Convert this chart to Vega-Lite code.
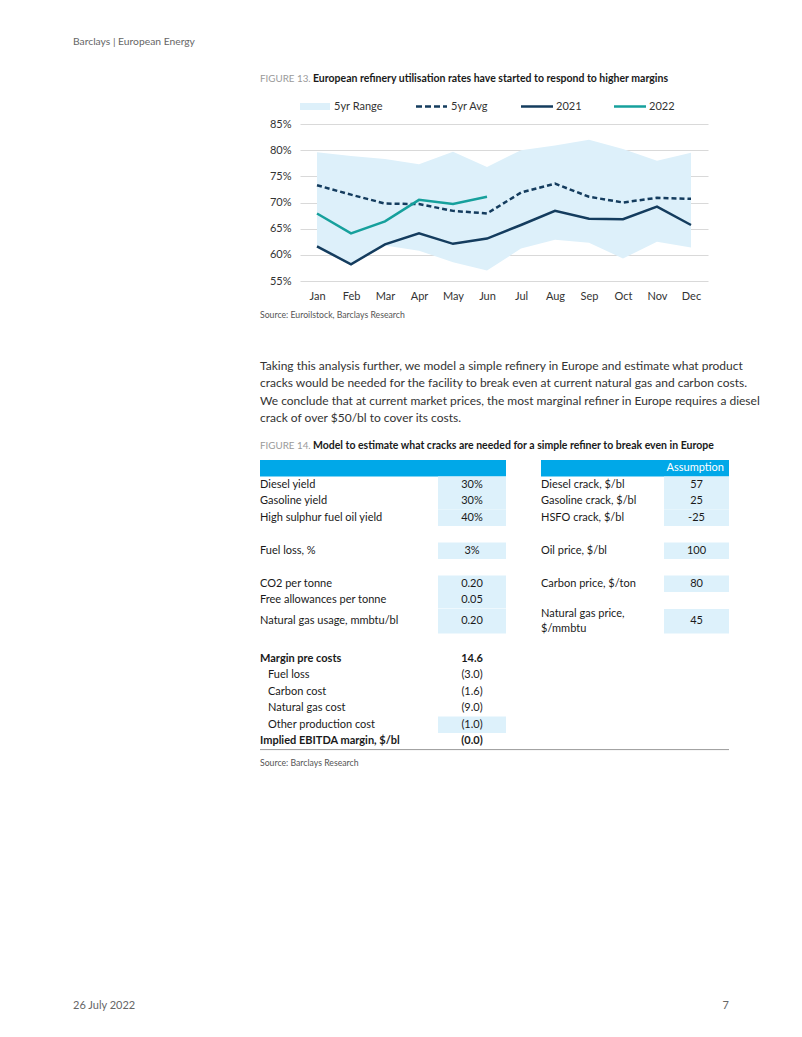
{
  "$schema": "https://vega.github.io/schema/vega-lite/v6.json",
  "background": "white",
  "padding": {"left": 73, "top": 30, "right": 5, "bottom": 5},
  "spacing": 0,
  "bounds": "flush",
  "center": true,
  "datasets": {
    "chart": [
      {"month": "Jan", "series": "5yr Range", "low": 61.3, "high": 79.6},
      {"month": "Feb", "series": "5yr Range", "low": 58.0, "high": 78.9},
      {"month": "Mar", "series": "5yr Range", "low": 61.8, "high": 78.3},
      {"month": "Apr", "series": "5yr Range", "low": 60.8, "high": 77.3},
      {"month": "May", "series": "5yr Range", "low": 58.6, "high": 79.7},
      {"month": "Jun", "series": "5yr Range", "low": 57.0, "high": 76.8},
      {"month": "Jul", "series": "5yr Range", "low": 61.2, "high": 80.0},
      {"month": "Aug", "series": "5yr Range", "low": 62.9, "high": 80.9},
      {"month": "Sep", "series": "5yr Range", "low": 62.3, "high": 82.0},
      {"month": "Oct", "series": "5yr Range", "low": 59.3, "high": 80.2},
      {"month": "Nov", "series": "5yr Range", "low": 62.5, "high": 78.0},
      {"month": "Dec", "series": "5yr Range", "low": 61.4, "high": 79.5},
      {"month": "Jan", "series": "5yr Avg", "value": 73.3},
      {"month": "Feb", "series": "5yr Avg", "value": 71.5},
      {"month": "Mar", "series": "5yr Avg", "value": 69.8},
      {"month": "Apr", "series": "5yr Avg", "value": 69.7},
      {"month": "May", "series": "5yr Avg", "value": 68.4},
      {"month": "Jun", "series": "5yr Avg", "value": 67.9},
      {"month": "Jul", "series": "5yr Avg", "value": 71.9},
      {"month": "Aug", "series": "5yr Avg", "value": 73.6},
      {"month": "Sep", "series": "5yr Avg", "value": 71.1},
      {"month": "Oct", "series": "5yr Avg", "value": 70.0},
      {"month": "Nov", "series": "5yr Avg", "value": 70.9},
      {"month": "Dec", "series": "5yr Avg", "value": 70.7},
      {"month": "Jan", "series": "2021", "value": 61.6},
      {"month": "Feb", "series": "2021", "value": 58.2},
      {"month": "Mar", "series": "2021", "value": 62.0},
      {"month": "Apr", "series": "2021", "value": 64.1},
      {"month": "May", "series": "2021", "value": 62.1},
      {"month": "Jun", "series": "2021", "value": 63.1},
      {"month": "Jul", "series": "2021", "value": 65.7},
      {"month": "Aug", "series": "2021", "value": 68.4},
      {"month": "Sep", "series": "2021", "value": 66.9},
      {"month": "Oct", "series": "2021", "value": 66.8},
      {"month": "Nov", "series": "2021", "value": 69.2},
      {"month": "Dec", "series": "2021", "value": 65.7},
      {"month": "Jan", "series": "2022", "value": 67.9},
      {"month": "Feb", "series": "2022", "value": 64.1},
      {"month": "Mar", "series": "2022", "value": 66.4},
      {"month": "Apr", "series": "2022", "value": 70.5},
      {"month": "May", "series": "2022", "value": 69.7},
      {"month": "Jun", "series": "2022", "value": 71.1}
    ],
    "table": [
      {"block": "A", "row": "H", "side": "L", "label": "", "value": "", "kind": "head", "input": false},
      {"block": "A", "row": "H", "side": "R", "label": "Assumption", "value": "", "kind": "head", "input": false},
      {"block": "A", "row": "r1", "side": "L", "label": "Diesel yield", "value": "30%", "kind": "item", "input": true},
      {"block": "A", "row": "r2", "side": "L", "label": "Gasoline yield", "value": "30%", "kind": "item", "input": true},
      {"block": "A", "row": "r3", "side": "L", "label": "High sulphur fuel oil yield", "value": "40%", "kind": "item", "input": true},
      {"block": "A", "row": "r4", "side": "L", "label": "Fuel loss, %", "value": "3%", "kind": "item", "input": true},
      {"block": "A", "row": "r5", "side": "L", "label": "CO2 per tonne", "value": "0.20", "kind": "item", "input": true},
      {"block": "A", "row": "r6", "side": "L", "label": "Free allowances per tonne", "value": "0.05", "kind": "item", "input": true},
      {"block": "A", "row": "r1", "side": "R", "label": "Diesel crack, $/bl", "value": "57", "kind": "item", "input": true},
      {"block": "A", "row": "r2", "side": "R", "label": "Gasoline crack, $/bl", "value": "25", "kind": "item", "input": true},
      {"block": "A", "row": "r3", "side": "R", "label": "HSFO crack, $/bl", "value": "-25", "kind": "item", "input": true},
      {"block": "A", "row": "r4", "side": "R", "label": "Oil price, $/bl", "value": "100", "kind": "item", "input": true},
      {"block": "A", "row": "r5", "side": "R", "label": "Carbon price, $/ton", "value": "80", "kind": "item", "input": true},
      {"block": "B", "row": "r7", "side": "L", "label": "Natural gas usage, mmbtu/bl", "value": "0.20", "kind": "item", "input": true},
      {"block": "B", "row": "r7", "side": "R", "label": "Natural gas price,\n$/mmbtu", "value": "45", "kind": "item", "input": true},
      {"block": "C", "row": "r8", "side": "L", "label": "Margin pre costs", "value": "14.6", "kind": "total", "input": false},
      {"block": "C", "row": "r9", "side": "L", "label": "Fuel loss", "value": "(3.0)", "kind": "sub", "input": false},
      {"block": "C", "row": "r10", "side": "L", "label": "Carbon cost", "value": "(1.6)", "kind": "sub", "input": false},
      {"block": "C", "row": "r11", "side": "L", "label": "Natural gas cost", "value": "(9.0)", "kind": "sub", "input": false},
      {"block": "C", "row": "r12", "side": "L", "label": "Other production cost", "value": "(1.0)", "kind": "sub", "input": true},
      {"block": "C", "row": "r13", "side": "L", "label": "Implied EBITDA margin, $/bl", "value": "(0.0)", "kind": "total", "input": false}
    ]
  },
  "vconcat": [
    {
      "width": 488, "height": 24,
      "data": {"values": [{"text": "Barclays | European Energy"}]},
      "mark": {"type": "text", "align": "left", "fontSize": 10.3, "color": "#666666"},
      "encoding": {
        "x": {"datum": 0, "type": "quantitative", "scale": {"domain": [0, 1], "range": [-187, 469]}, "axis": null},
        "text": {"field": "text"}
      }
    },
    {
      "width": 488, "height": 49,
      "data": {"values": [{"fig": "FIGURE 13.", "title": "European refinery utilisation rates have started to respond to higher margins"}]},
      "layer": [
        {"mark": {"type": "text", "align": "left", "fontSize": 9.8, "fontWeight": "normal", "color": "#9a9a9a"},
         "encoding": {"x": {"datum": 0, "type": "quantitative", "scale": {"domain": [0, 1], "range": [0, 53]}, "axis": null}, "text": {"field": "fig"}}},
        {"mark": {"type": "text", "align": "left", "fontSize": 10.5, "fontWeight": "bold", "color": "#1a1a1a"},
         "encoding": {"x": {"datum": 1, "type": "quantitative"}, "text": {"field": "title"}}}
      ]
    },
    {
      "width": 408, "height": 7,
      "data": {"values": [{"series": "5yr Range"}, {"series": "5yr Avg"}, {"series": "2021"}, {"series": "2022"}]},
      "layer": [
        {"transform": [{"filter": "datum.series === '5yr Range'"}], "mark": {"type": "rect", "color": "#DDF0FA"},
         "encoding": {"x": {"datum": 0, "type": "quantitative", "scale": {"domain": [0,1,2,3,4,5,6,7,8,9,10,11], "range": [0,30,34,116,147,151,221,253,256,314,346,349]}, "axis": null}, "x2": {"datum": 1}}},
        {"transform": [{"filter": "datum.series === '5yr Avg'"}], "mark": {"type": "rule", "color": "#143C5E", "strokeWidth": 2.5, "strokeDash": [6, 3]},
         "encoding": {"x": {"datum": 3, "type": "quantitative"}, "x2": {"datum": 4}}},
        {"transform": [{"filter": "datum.series === '2021'"}], "mark": {"type": "rule", "color": "#143C5E", "strokeWidth": 2.5},
         "encoding": {"x": {"datum": 6, "type": "quantitative"}, "x2": {"datum": 7}}},
        {"transform": [{"filter": "datum.series === '2022'"}], "mark": {"type": "rule", "color": "#16A09C", "strokeWidth": 2.5},
         "encoding": {"x": {"datum": 9, "type": "quantitative"}, "x2": {"datum": 10}}},
        {"transform": [{"filter": "datum.series === '5yr Range'"}], "mark": {"type": "text", "align": "left", "fontSize": 11, "color": "#333333"},
         "encoding": {"x": {"datum": 2, "type": "quantitative"}, "text": {"field": "series"}}},
        {"transform": [{"filter": "datum.series === '5yr Avg'"}], "mark": {"type": "text", "align": "left", "fontSize": 11, "color": "#333333"},
         "encoding": {"x": {"datum": 5, "type": "quantitative"}, "text": {"field": "series"}}},
        {"transform": [{"filter": "datum.series === '2021'"}], "mark": {"type": "text", "align": "left", "fontSize": 11, "color": "#333333"},
         "encoding": {"x": {"datum": 8, "type": "quantitative"}, "text": {"field": "series"}}},
        {"transform": [{"filter": "datum.series === '2022'"}], "mark": {"type": "text", "align": "left", "fontSize": 11, "color": "#333333"},
         "encoding": {"x": {"datum": 11, "type": "quantitative"}, "text": {"field": "series"}}}
      ]
    },
    {"width": 488, "height": 14, "data": {"values": [{}]}, "mark": {"type": "text", "text": ""}},
    {
      "width": 408, "height": 157,
      "data": {"name": "chart"},
      "encoding": {
        "x": {"field": "month", "type": "ordinal",
              "scale": {"type": "point", "domain": ["Jan","Feb","Mar","Apr","May","Jun","Jul","Aug","Sep","Oct","Nov","Dec"], "padding": 0.5},
              "axis": {"domain": false, "ticks": false, "labelPadding": 9, "labelFontSize": 11, "labelColor": "#333333", "labelAngle": 0, "title": null, "grid": false}}
      },
      "layer": [
        {
          "transform": [{"filter": "datum.series === '5yr Range'"}],
          "mark": {"type": "area", "opacity": 1, "color": "#DDF0FA"},
          "encoding": {
            "y": {"field": "low", "type": "quantitative",
                  "scale": {"domain": [55, 85], "nice": false, "zero": false},
                  "axis": {"values": [55, 60, 65, 70, 75, 80, 85], "labelExpr": "datum.value + '%'", "domain": false, "ticks": false, "labelPadding": 9, "labelFontSize": 11, "labelColor": "#333333", "gridColor": "#d9d9d9", "gridWidth": 1, "title": null, "labelOverlap": false}},
            "y2": {"field": "high"}
          }
        },
        {
          "transform": [{"filter": "datum.series === '5yr Avg'"}],
          "mark": {"type": "line", "strokeWidth": 2.5, "strokeDash": [5, 3], "color": "#143C5E"},
          "encoding": {"y": {"field": "value", "type": "quantitative",
                  "axis": {"values": [55, 60, 65, 70, 75, 80, 85], "labelExpr": "datum.value + '%'", "domain": false, "ticks": false, "labelPadding": 9, "labelFontSize": 11, "labelColor": "#333333", "gridColor": "#d9d9d9", "gridWidth": 1, "title": null, "labelOverlap": false}}}
        },
        {
          "transform": [{"filter": "datum.series === '2021'"}],
          "mark": {"type": "line", "strokeWidth": 2.5, "color": "#143C5E"},
          "encoding": {"y": {"field": "value", "type": "quantitative",
                  "axis": {"values": [55, 60, 65, 70, 75, 80, 85], "labelExpr": "datum.value + '%'", "domain": false, "ticks": false, "labelPadding": 9, "labelFontSize": 11, "labelColor": "#333333", "gridColor": "#d9d9d9", "gridWidth": 1, "title": null, "labelOverlap": false}}}
        },
        {
          "transform": [{"filter": "datum.series === '2022'"}],
          "mark": {"type": "line", "strokeWidth": 2.5, "color": "#16A09C"},
          "encoding": {"y": {"field": "value", "type": "quantitative",
                  "axis": {"values": [55, 60, 65, 70, 75, 80, 85], "labelExpr": "datum.value + '%'", "domain": false, "ticks": false, "labelPadding": 9, "labelFontSize": 11, "labelColor": "#333333", "gridColor": "#d9d9d9", "gridWidth": 1, "title": null, "labelOverlap": false}}}
        }
      ]
    },
    {
      "width": 488, "height": 68,
      "data": {"values": [{"text": "Source: Euroilstock, Barclays Research"}]},
      "mark": {"type": "text", "align": "left", "fontSize": 8.7, "color": "#555555"},
      "encoding": {"x": {"value": 0}, "text": {"field": "text"}}
    },
    {"width": 488, "height": 7.4, "data": {"values": [{}]}, "mark": {"type": "text", "text": ""}},
    {
      "width": 488, "height": 69.6,
      "data": {"values": [
        {"line": 1, "text": "Taking this analysis further, we model a simple refinery in Europe and estimate what product"},
        {"line": 2, "text": "cracks would be needed for the facility to break even at current natural gas and carbon costs."},
        {"line": 3, "text": "We conclude that at current market prices, the most marginal refiner in Europe requires a diesel"},
        {"line": 4, "text": "crack of over $50/bl to cover its costs."}
      ]},
      "mark": {"type": "text", "align": "left", "fontSize": 12, "color": "#333333"},
      "encoding": {
        "x": {"value": 0},
        "y": {"field": "line", "type": "ordinal", "scale": {"type": "band", "paddingInner": 0, "paddingOuter": 0}, "axis": null},
        "text": {"field": "text"}
      }
    },
    {"width": 488, "height": 5, "data": {"values": [{}]}, "mark": {"type": "text", "text": ""}},
    {
      "width": 488, "height": 28,
      "data": {"values": [{"fig": "FIGURE 14.", "title": "Model to estimate what cracks are needed for a simple refiner to break even in Europe"}]},
      "layer": [
        {"mark": {"type": "text", "align": "left", "fontSize": 9.8, "fontWeight": "normal", "color": "#9a9a9a"},
         "encoding": {"x": {"datum": 0, "type": "quantitative", "scale": {"domain": [0, 1], "range": [0, 53]}, "axis": null}, "text": {"field": "fig"}}},
        {"mark": {"type": "text", "align": "left", "fontSize": 10.5, "fontWeight": "bold", "color": "#1a1a1a"},
         "encoding": {"x": {"datum": 1, "type": "quantitative"}, "text": {"field": "title"}}}
      ]
    },
    {
      "width": 488, "height": 148.5,
      "data": {"name": "table"},
      "transform": [{"filter": "datum.block === 'A'"}],
      "encoding": {
        "y": {"field": "row", "type": "nominal", "scale": {"type": "band", "domain": ["H", "r1", "r2", "r3", "g1", "r4", "g2", "r5", "r6"], "paddingInner": 0, "paddingOuter": 0}, "axis": null}
      },
      "layer": [
        {"transform": [{"filter": "datum.row === 'H' && datum.side === 'L'"}], "mark": {"type": "rect", "color": "#00A8E8"},
         "encoding": {"x": {"datum": 0, "type": "quantitative", "scale": {"domain": [0,1,2,3,4,5,6,7,8,9], "range": [0,8,178,212,246,281,404,436.5,464,469]}, "axis": null}, "x2": {"datum": 4}}},
        {"transform": [{"filter": "datum.row === 'H' && datum.side === 'R'"}], "mark": {"type": "rect", "color": "#00A8E8"},
         "encoding": {"x": {"datum": 5, "type": "quantitative"}, "x2": {"datum": 9}}},
        {"transform": [{"filter": "datum.input && datum.side === 'L'"}], "mark": {"type": "rect", "color": "#DDF1FB"},
         "encoding": {"x": {"datum": 2, "type": "quantitative"}, "x2": {"datum": 4}}},
        {"transform": [{"filter": "datum.input && datum.side === 'R'"}], "mark": {"type": "rect", "color": "#DDF1FB"},
         "encoding": {"x": {"datum": 6, "type": "quantitative"}, "x2": {"datum": 9}}},
        {"transform": [{"filter": "datum.row === 'H' && datum.side === 'R'"}], "mark": {"type": "text", "align": "right", "fontSize": 11, "color": "#ffffff"},
         "encoding": {"x": {"datum": 8, "type": "quantitative"}, "text": {"field": "label"}}},
        {"transform": [{"filter": "datum.kind === 'item' && datum.side === 'L'"}], "mark": {"type": "text", "align": "left", "fontSize": 11, "color": "#1a1a1a"},
         "encoding": {"x": {"datum": 0, "type": "quantitative"}, "text": {"field": "label"}}},
        {"transform": [{"filter": "datum.kind === 'item' && datum.side === 'L'"}], "mark": {"type": "text", "align": "center", "fontSize": 11, "color": "#1a1a1a"},
         "encoding": {"x": {"datum": 3, "type": "quantitative"}, "text": {"field": "value"}}},
        {"transform": [{"filter": "datum.kind === 'item' && datum.side === 'R'"}], "mark": {"type": "text", "align": "left", "fontSize": 11, "color": "#1a1a1a"},
         "encoding": {"x": {"datum": 5, "type": "quantitative"}, "text": {"field": "label"}}},
        {"transform": [{"filter": "datum.kind === 'item' && datum.side === 'R'"}], "mark": {"type": "text", "align": "center", "fontSize": 11, "color": "#1a1a1a"},
         "encoding": {"x": {"datum": 7, "type": "quantitative"}, "text": {"field": "value"}}}
      ]
    },
    {
      "width": 488, "height": 24.5,
      "data": {"name": "table"},
      "transform": [{"filter": "datum.block === 'B'"}],
      "encoding": {
        "y": {"field": "row", "type": "nominal", "scale": {"type": "band", "domain": ["r7"], "paddingInner": 0, "paddingOuter": 0}, "axis": null}
      },
      "layer": [
        {"transform": [{"filter": "datum.input && datum.side === 'L'"}], "mark": {"type": "rect", "color": "#DDF1FB"},
         "encoding": {"x": {"datum": 2, "type": "quantitative", "scale": {"domain": [0,1,2,3,4,5,6,7,8,9], "range": [0,8,178,212,246,281,404,436.5,464,469]}, "axis": null}, "x2": {"datum": 4}}},
        {"transform": [{"filter": "datum.input && datum.side === 'R'"}], "mark": {"type": "rect", "color": "#DDF1FB"},
         "encoding": {"x": {"datum": 6, "type": "quantitative"}, "x2": {"datum": 9}}},
        {"transform": [{"filter": "datum.side === 'L'"}], "mark": {"type": "text", "align": "left", "fontSize": 11, "color": "#1a1a1a"},
         "encoding": {"x": {"datum": 0, "type": "quantitative"}, "text": {"field": "label"}}},
        {"transform": [{"filter": "datum.side === 'L'"}], "mark": {"type": "text", "align": "center", "fontSize": 11, "color": "#1a1a1a"},
         "encoding": {"x": {"datum": 3, "type": "quantitative"}, "text": {"field": "value"}}},
        {"transform": [{"filter": "datum.side === 'R'"}], "mark": {"type": "text", "align": "left", "fontSize": 11, "color": "#1a1a1a", "lineBreak": "\n", "lineHeight": 15, "dy": -7.5},
         "encoding": {"x": {"datum": 5, "type": "quantitative"}, "text": {"field": "label"}}},
        {"transform": [{"filter": "datum.side === 'R'"}], "mark": {"type": "text", "align": "center", "fontSize": 11, "color": "#1a1a1a"},
         "encoding": {"x": {"datum": 7, "type": "quantitative"}, "text": {"field": "value"}}}
      ]
    },
    {
      "width": 488, "height": 115.6,
      "data": {"name": "table"},
      "transform": [{"filter": "datum.block === 'C'"}],
      "encoding": {
        "y": {"field": "row", "type": "nominal", "scale": {"type": "band", "domain": ["g3", "r8", "r9", "r10", "r11", "r12", "r13"], "paddingInner": 0, "paddingOuter": 0}, "axis": null}
      },
      "layer": [
        {"transform": [{"filter": "datum.input"}], "mark": {"type": "rect", "color": "#DDF1FB"},
         "encoding": {"x": {"datum": 2, "type": "quantitative", "scale": {"domain": [0,1,2,3,4,5,6,7,8,9], "range": [0,8,178,212,246,281,404,436.5,464,469]}, "axis": null}, "x2": {"datum": 4}}},
        {"transform": [{"filter": "datum.kind === 'sub'"}], "mark": {"type": "text", "align": "left", "fontSize": 11, "color": "#1a1a1a"},
         "encoding": {"x": {"datum": 1, "type": "quantitative"}, "text": {"field": "label"}}},
        {"transform": [{"filter": "datum.kind === 'total'"}], "mark": {"type": "text", "align": "left", "fontSize": 11, "fontWeight": "bold", "color": "#1a1a1a"},
         "encoding": {"x": {"datum": 0, "type": "quantitative"}, "text": {"field": "label"}}},
        {"transform": [{"filter": "datum.kind === 'sub'"}], "mark": {"type": "text", "align": "center", "fontSize": 11, "color": "#1a1a1a"},
         "encoding": {"x": {"datum": 3, "type": "quantitative"}, "text": {"field": "value"}}},
        {"transform": [{"filter": "datum.kind === 'total'"}], "mark": {"type": "text", "align": "center", "fontSize": 11, "fontWeight": "bold", "color": "#1a1a1a"},
         "encoding": {"x": {"datum": 3, "type": "quantitative"}, "text": {"field": "value"}}},
        {"transform": [{"filter": "datum.row === 'r13'"}], "mark": {"type": "rule", "color": "#9a9a9a", "strokeWidth": 1},
         "encoding": {"x": {"datum": 0, "type": "quantitative"}, "x2": {"datum": 9}, "y": {"field": "row", "type": "nominal", "bandPosition": 1}}}
      ]
    },
    {
      "width": 488, "height": 26.8,
      "data": {"values": [{"text": "Source: Barclays Research"}]},
      "mark": {"type": "text", "align": "left", "fontSize": 8.7, "color": "#555555"},
      "encoding": {"x": {"value": 0}, "text": {"field": "text"}}
    },
    {"width": 488, "height": 214.6, "data": {"values": [{}]}, "mark": {"type": "text", "text": ""}},
    {
      "width": 488, "height": 28,
      "data": {"values": [{"date": "26 July 2022", "page": "7"}]},
      "layer": [
        {"mark": {"type": "text", "align": "left", "fontSize": 11, "color": "#666666"},
         "encoding": {"x": {"datum": 0, "type": "quantitative", "scale": {"domain": [0, 1], "range": [-187, 469]}, "axis": null}, "text": {"field": "date"}}},
        {"mark": {"type": "text", "align": "right", "fontSize": 11, "color": "#666666"},
         "encoding": {"x": {"datum": 1, "type": "quantitative"}, "text": {"field": "page"}}}
      ]
    }
  ],
  "config": {
    "font": "Lato",
    "view": {"stroke": null},
    "text": {"font": "Lato"},
    "axis": {"labelFont": "Lato"}
  }
}
